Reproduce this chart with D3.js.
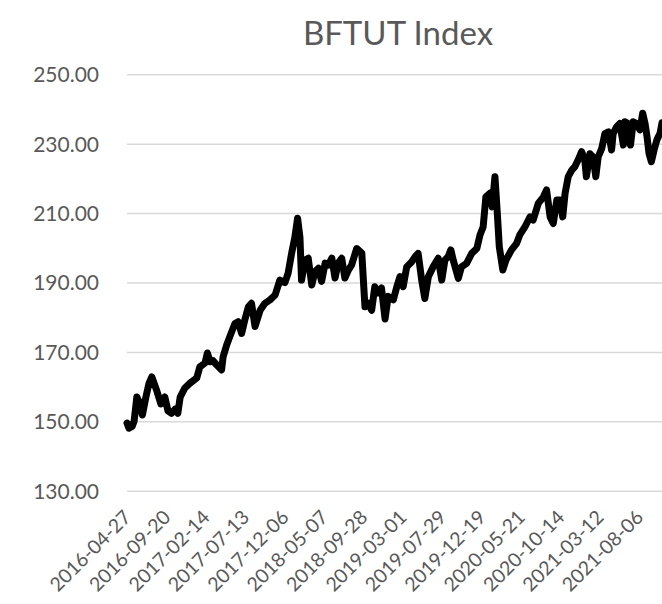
<!DOCTYPE html>
<html>
<head>
<meta charset="utf-8">
<script src="https://cdn.jsdelivr.net/npm/d3@7"></script>
<style>
  html, body { margin: 0; padding: 0; background: #fff; }
  svg { display: block; }
</style>
</head>
<body>
<svg id="chart" width="662" height="604"></svg>
<script>
// ---- Data (trading-day index from 2016-04-27, index value) ----
const dayIndex = [0,5,13,18,25,33,39,48,56,63,75,86,96,104,113,122,129,135,147,160,177,185,198,204,211,218,228,236,240,244,253,261,274,282,291,299,308,316,325,338,350,363,376,388,401,409,418,426,433,439,443,452,460,469,477,486,494,503,511,520,528,536,545,553,562,570,583,596,604,612,621,629,638,646,655,663,676,685,693,701,710,723,731,739,748,756,765,777,790,799,807,815,822,828,841,849,862,875,888,896,904,911,921,927,934,940,945,954,962,976,989,997,1010,1023,1031,1044,1057,1065,1074,1082,1091,1099,1106,1112,1120,1129,1137,1145,1154,1162,1166,1175,1183,1190,1196,1205,1213,1222,1230,1234,1243,1251,1260,1264,1272,1278,1285,1294,1302,1309,1315,1320,1325,1331,1338,1345,1353,1358];
const indexValues = [149.5,148,148.5,150,157,155,151.8,157,161,162.8,159,155,157,153,152.3,153.5,152.3,157,159.6,161,162.5,165.7,166.8,169.7,167.2,167.5,166.2,165.3,164.8,168.6,172,174.4,178.2,178.7,175.3,179.2,183,184,177.3,182,184,185,186.4,190.7,190,192.7,198.5,203,208.5,203,190.7,196.5,197,189.3,193.1,194.1,190.3,195.6,195,197,191.3,195.6,197,191.3,193.6,195,199.8,198.5,183,184,182,188.8,187,188.4,179.5,186,185,188.8,191.7,188.8,194.5,196,197.4,198.4,190.7,185.4,191.7,194.5,197,190.7,196.5,197.4,199.4,196.5,191.2,194.5,195.5,198.4,199.8,203.7,206,214.7,215.7,211.8,220.5,209.9,200.3,193.6,196.5,199.4,201.3,203.7,206,208.9,208,212.8,214.7,216.7,208.9,207,213.8,213.8,208.9,215.7,220.5,222.4,223.4,225.3,227.7,225.3,220.5,227.1,226.2,220.5,226.2,228.6,232.9,233.4,228.2,232.9,234.9,235.8,229.6,236.3,235.8,229.6,236.3,235.8,234,238.8,235.8,232,227.2,224.8,228.2,231.1,233,236];
const tickIndex = [0,100,200,300,400,500,600,700,800,900,1000,1100,1200,1300];
const tickLabels = ["2016-04-27","2016-09-20","2017-02-14","2017-07-13","2017-12-06","2018-05-07","2018-09-28","2019-03-01","2019-07-29","2019-12-19","2020-05-21","2020-10-14","2021-03-12","2021-08-06"];
const yTicks = [130,150,170,190,210,230,250];
const title = "BFTUT Index";

// ---- Drawing ----
const svg = d3.select("#chart");
const FONT = "Lato, 'Open Sans', sans-serif";
const TXT = "#595959";

const x = d3.scaleLinear().domain([0, 1358]).range([127, 662]);
const y = d3.scaleLinear().domain([130, 250]).range([490.7, 74.3]);

// Title
svg.append("text")
  .attr("x", 398).attr("y", 44.5)
  .attr("text-anchor", "middle")
  .attr("font-family", FONT).attr("font-size", 33)
  .attr("fill", TXT)
  .text(title);

// Gridlines + y labels via axis
const yAxis = d3.axisLeft(y).tickValues(yTicks).tickSize(-(662 - 127)).tickPadding(28)
  .tickFormat(d3.format(".2f"));
const gy = svg.append("g").attr("transform", "translate(127,0)").call(yAxis);
gy.select(".domain").remove();
gy.selectAll(".tick line").attr("stroke", "#d9d9d9").attr("stroke-width", 1.5);
gy.selectAll(".tick text")
  .attr("font-family", FONT).attr("font-size", 21).attr("fill", TXT)
  .attr("dy", "0.35em");

// X axis labels
const xAxis = d3.axisBottom(x).tickValues(tickIndex).tickSize(0)
  .tickFormat((d, i) => tickLabels[i]);
const gx = svg.append("g").attr("transform", "translate(0,490.7)").call(xAxis);
gx.select(".domain").remove();
gx.selectAll(".tick text")
  .attr("font-family", FONT).attr("font-size", 19.5).attr("fill", TXT)
  .attr("text-anchor", "end")
  .attr("y", 0).attr("dy", "0.35em")
  .attr("transform", "translate(0,23) rotate(-45)");

// Line
const pts = dayIndex.map((d, i) => [d, indexValues[i]]);
const line = d3.line().x(d => x(d[0])).y(d => y(d[1]));
svg.append("path")
  .datum(pts)
  .attr("d", line)
  .attr("fill", "none")
  .attr("stroke", "#000")
  .attr("stroke-width", 7)
  .attr("stroke-linejoin", "round")
  .attr("stroke-linecap", "round");
</script>
</body>
</html>
